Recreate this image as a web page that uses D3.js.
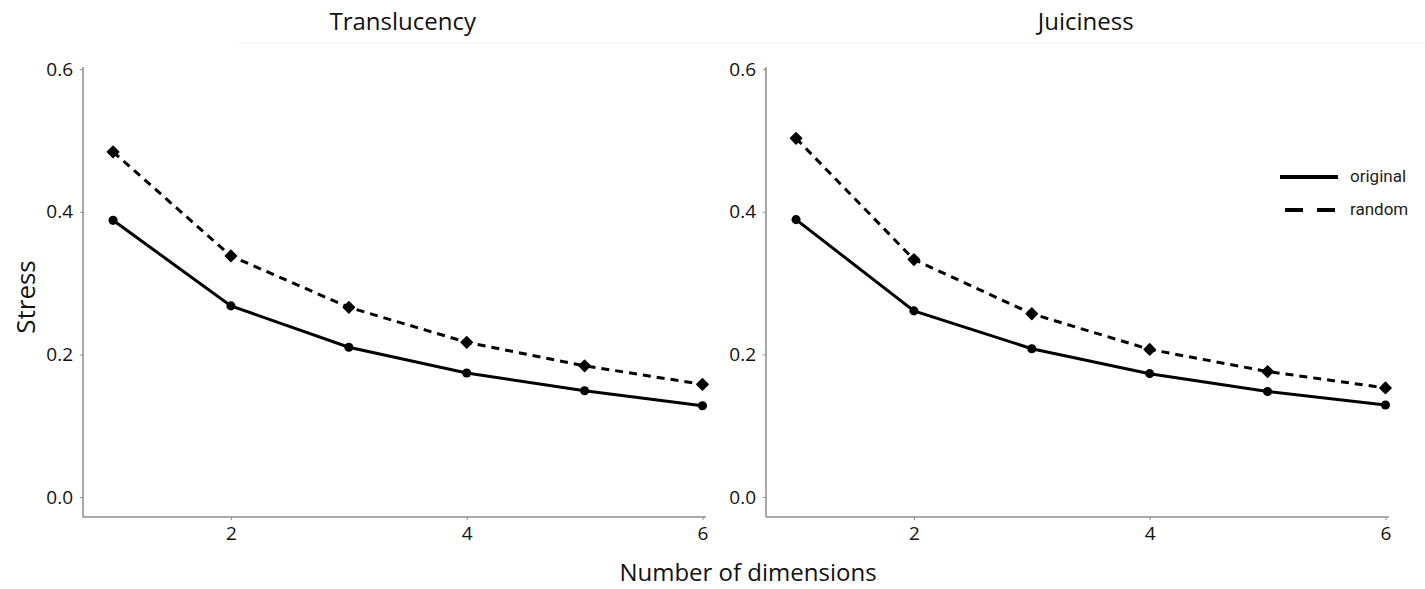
<!DOCTYPE html>
<html>
<head>
<meta charset="utf-8">
<script src="https://cdn.jsdelivr.net/npm/d3@7"></script>
<style>
  body { margin: 0; background: #fff; }
  svg { display: block; }
</style>
</head>
<body>
<svg width="1425" height="589"></svg>
<script>
// values
const dims = [1, 2, 3, 4, 5, 6]
const panels = ["Translucency", "Juiciness"]
const translucencyOriginal = [0.388, 0.268, 0.210, 0.174, 0.149, 0.128]
const translucencyRandom = [0.484, 0.338, 0.266, 0.217, 0.184, 0.158]
const juicinessOriginal = [0.389, 0.261, 0.208, 0.173, 0.148, 0.129]
const juicinessRandom = [0.503, 0.333, 0.257, 0.207, 0.176, 0.153]
const yTicks = [0.0, 0.2, 0.4, 0.6]
const xTicks = [2, 4, 6]
const seriesNames = ["original", "random"]

const svg = d3.select("svg")
const font = "'Open Sans', sans-serif"
const axisColor = "#8c8c8c"

const data = [
	{ title: panels[0], left: 83, right: 706, series: [translucencyOriginal, translucencyRandom] },
	{ title: panels[1], left: 766, right: 1389, series: [juicinessOriginal, juicinessRandom] }
]

const y = d3.scaleLinear().domain([-0.028, 0.603]).range([517, 67])

// faint rule under the titles
svg.append("line")
	.attr("x1", 235).attr("x2", 1425)
	.attr("y1", 43).attr("y2", 43)
	.attr("stroke", "#f2f2f2").attr("stroke-width", 1)

data.forEach((p, i) => {
	const x = d3.scaleLinear().domain([0.745, 6.03]).range([p.left, p.right])
	const g = svg.append("g")

	g.append("text")
		.attr("x", (x(1) + x(6)) / 2 - 5)
		.attr("y", 30)
		.attr("text-anchor", "middle")
		.attr("font-family", font)
		.attr("font-size", 24)
		.attr("fill", "#111")
		.text(p.title)

	const yAxis = g.append("g")
		.attr("transform", `translate(${p.left},0)`)
		.call(d3.axisLeft(y).tickValues(yTicks).tickFormat(d3.format(".1f")).tickSize(3).tickPadding(7))
	const xAxis = g.append("g")
		.attr("transform", `translate(0,517)`)
		.call(d3.axisBottom(x).tickValues(xTicks).tickFormat(d3.format("d")).tickSize(3).tickPadding(7))
	for (const ax of [yAxis, xAxis]) {
		ax.select(".domain").attr("stroke", axisColor).attr("stroke-width", 1.5)
		ax.selectAll(".tick line").attr("stroke", axisColor)
		ax.selectAll(".tick text")
			.attr("font-family", font)
			.attr("font-size", 19)
			.attr("fill", "#111")
	}
	// d3 draws outer ticks; redraw the domain as plain lines
	yAxis.select(".domain").attr("d", `M0,${y.range()[1]}V517`)
	xAxis.select(".domain").attr("d", `M${p.left},0H${p.right}`)

	const line = d3.line()
		.x((d, j) => x(dims[j]))
		.y(d => y(d))

	p.series.forEach((values, s) => {
		g.append("path")
			.datum(values)
			.attr("d", line)
			.attr("fill", "none")
			.attr("stroke", "#000")
			.attr("stroke-width", 3)
			.attr("stroke-dasharray", s === 1 ? "8 6" : null)
		g.selectAll(null)
			.data(values)
			.enter()
			.append("path")
			.attr("transform", (d, j) => `translate(${x(dims[j])},${y(d)})`)
			.attr("d", d3.symbol().type(s === 1 ? d3.symbolDiamond2 : d3.symbolCircle).size(s === 1 ? 80 : 65))
			.attr("fill", "#000")
			.attr("stroke", "#000")
			.attr("stroke-width", s === 1 ? 1.5 : 0)
			.attr("stroke-linejoin", "round")
	})
})

// legend (right panel)
const legend = svg.append("g").attr("transform", "translate(1280,177)")
seriesNames.forEach((name, i) => {
	const row = legend.append("g").attr("transform", `translate(0,${i * 33})`)
	row.append("line")
		.attr("x1", i === 1 ? 5 : 0).attr("x2", 58)
		.attr("stroke", "#000")
		.attr("stroke-width", 4)
		.attr("stroke-dasharray", i === 1 ? "18 14" : null)
	row.append("text")
		.attr("x", 70).attr("y", 5)
		.attr("font-family", "Roboto, sans-serif")
		.attr("font-size", 17)
		.attr("fill", "#222")
		.text(name)
})

svg.append("text")
	.attr("x", 748).attr("y", 581)
	.attr("text-anchor", "middle")
	.attr("font-family", font)
	.attr("font-size", 24)
	.attr("fill", "#111")
	.text("Number of dimensions")

svg.append("text")
	.attr("transform", "translate(35,297) rotate(-90)")
	.attr("text-anchor", "middle")
	.attr("font-family", font)
	.attr("font-size", 26)
	.attr("fill", "#111")
	.text("Stress")
</script>
</body>
</html>
